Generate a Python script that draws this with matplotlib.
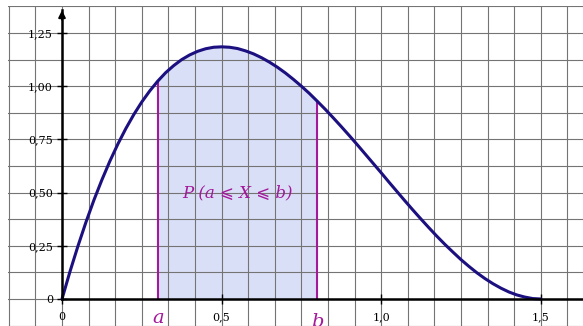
import matplotlib
matplotlib.use('Agg')
import numpy as np
import matplotlib.pyplot as plt
from matplotlib.ticker import MultipleLocator

# densite (pas de 0,025)
x_vals = [0.000, 0.025, 0.050, 0.075, 0.100, 0.125, 0.150, 0.175, 0.200, 0.225,
          0.250, 0.275, 0.300, 0.325, 0.350, 0.375, 0.400, 0.425, 0.450, 0.475,
          0.500, 0.525, 0.550, 0.575, 0.600, 0.625, 0.650, 0.675, 0.700, 0.725,
          0.750, 0.775, 0.800, 0.825, 0.850, 0.875, 0.900, 0.925, 0.950, 0.975,
          1.000, 1.025, 1.050, 1.075, 1.100, 1.125, 1.150, 1.175, 1.200, 1.225,
          1.250, 1.275, 1.300, 1.325, 1.350, 1.375, 1.400, 1.425, 1.450, 1.475,
          1.500]
f_vals = [0.000, 0.129, 0.249, 0.361, 0.465, 0.560, 0.648, 0.728, 0.801, 0.867,
          0.926, 0.978, 1.024, 1.064, 1.097, 1.125, 1.147, 1.164, 1.176, 1.183,
          1.185, 1.183, 1.177, 1.166, 1.152, 1.134, 1.113, 1.089, 1.062, 1.032,
          1.000, 0.966, 0.929, 0.891, 0.851, 0.810, 0.768, 0.725, 0.681, 0.637,
          0.593, 0.548, 0.504, 0.460, 0.417, 0.375, 0.334, 0.294, 0.256, 0.220,
          0.185, 0.153, 0.123, 0.096, 0.072, 0.051, 0.033, 0.019, 0.009, 0.002,
          0.000]
a_val, b_val = 0.30, 0.80

x_ticks = [0, 0.5, 1.0, 1.5]
x_labels = ['0', '0,5', '1,0', '1,5']
y_ticks = [0, 0.25, 0.5, 0.75, 1.0, 1.25]
y_labels = ['0', '0,25', '0,50', '0,75', '1,00', '1,25']

navy = '#1c1080'
purple = '#a3199a'
fill_col = '#dadff8'

x = np.array(x_vals)
f = np.array(f_vals)

fig = plt.figure(figsize=(5.83, 3.26), dpi=100)
ax = fig.add_axes([8 / 583, 0, 575 / 583, 320 / 326])
ax.set_xlim(-0.1692, 1.6322)
ax.set_ylim(-0.1269, 1.3769)

# quadrillage
ax.xaxis.set_minor_locator(MultipleLocator(1 / 12))
ax.yaxis.set_minor_locator(MultipleLocator(0.125))
ax.grid(which='both', color='#747474', lw=0.8, zorder=0)
ax.tick_params(which='minor', length=0)

# axes
for s in ['top', 'right']:
    ax.spines[s].set_visible(False)
ax.spines['left'].set_position(('data', 0))
ax.spines['bottom'].set_position(('data', 0))
ax.spines['left'].set_bounds(0, 1.36)
ax.spines['bottom'].set_bounds(0, 1.63)
for s in ['left', 'bottom']:
    ax.spines[s].set_linewidth(1.8)
    ax.spines[s].set_zorder(4)
ax.annotate('', xy=(0, 1.37), xytext=(0, 1.30),
            arrowprops=dict(arrowstyle='-|>', color='black', lw=1.5, mutation_scale=10),
            annotation_clip=False, zorder=5)

ax.set_xticks(x_ticks)
ax.set_xticklabels(x_labels)
ax.set_yticks(y_ticks)
ax.set_yticklabels(y_labels)
ax.tick_params(which='major', direction='inout', length=7, width=1.0,
               labelsize=8, pad=3)
ax.tick_params(axis='x', which='major', pad=6)
for lab in ax.get_xticklabels() + ax.get_yticklabels():
    lab.set_family('DejaVu Serif')

# aire et courbe
mask = (x >= a_val - 1e-9) & (x <= b_val + 1e-9)
ax.fill_between(x[mask], 0, f[mask], color=fill_col, lw=0, zorder=1)
fa = f[np.isclose(x, a_val)][0]
fb = f[np.isclose(x, b_val)][0]
ax.vlines([a_val, b_val], 0, [fa, fb], color=purple, lw=1.5, zorder=2)
ax.plot(x, f, color=navy, lw=2.2, zorder=3, solid_capstyle='round')

ax.text(a_val, -0.113, 'a', color=purple, fontsize=14, style='italic',
        family='DejaVu Serif', ha='center', va='baseline', clip_on=False)
ax.text(b_val, -0.133, 'b', color=purple, fontsize=14, style='italic',
        family='DejaVu Serif', ha='center', va='baseline', clip_on=False)
ax.text(0.55, 0.50, 'P (a ⩽ X ⩽ b)', color=purple, fontsize=12, style='italic',
        family=['DejaVu Serif', 'DejaVu Sans'], ha='center', va='center', zorder=4)

fig.savefig('out.png', dpi=100)
